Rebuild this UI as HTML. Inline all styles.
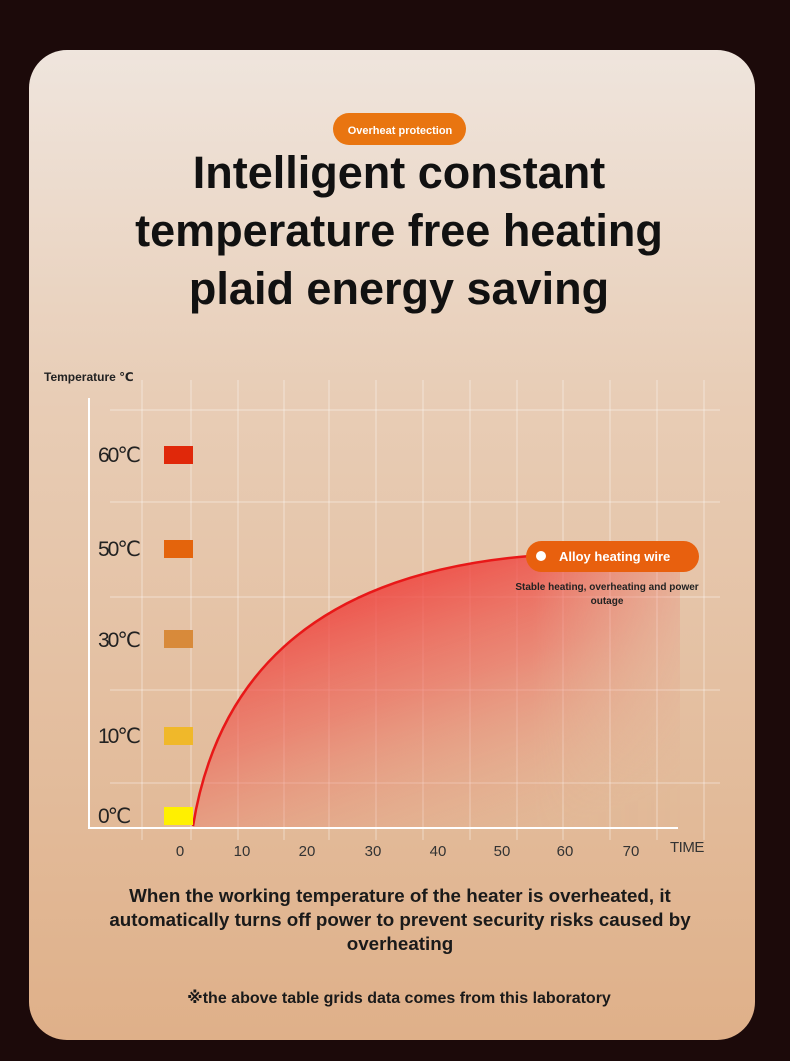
<!DOCTYPE html>
<html><head><meta charset="utf-8"><style>
html,body{margin:0;padding:0;background:#1c0a0a;width:790px;height:1061px;overflow:hidden}
</style></head><body>
<svg width="790" height="1061" viewBox="0 0 790 1061" xmlns="http://www.w3.org/2000/svg" font-family="Liberation Sans, DejaVu Sans, sans-serif">
<defs>
<linearGradient id="bg" x1="0" y1="0" x2="0" y2="1">
<stop offset="0" stop-color="#efe5dd"/><stop offset="0.35" stop-color="#e8cdb6"/><stop offset="1" stop-color="#dfb089"/>
</linearGradient>
<linearGradient id="fillg" x1="0.15" y1="0" x2="0.75" y2="1">
<stop offset="0" stop-color="#f02a2a" stop-opacity="0.95"/><stop offset="0.5" stop-color="#ee5a50" stop-opacity="0.55"/><stop offset="1" stop-color="#e8a080" stop-opacity="0.05"/>
</linearGradient>
<linearGradient id="fadeR" x1="0" y1="0" x2="1" y2="0">
<stop offset="0" stop-color="#fff" stop-opacity="1"/><stop offset="0.7" stop-color="#fff" stop-opacity="1"/><stop offset="1" stop-color="#fff" stop-opacity="0.3"/>
</linearGradient>
<mask id="m"><rect x="190" y="540" width="490" height="290" fill="url(#fadeR)"/></mask>
</defs>
<rect x="29" y="50" width="726" height="990" rx="38" fill="url(#bg)"/>
<rect x="333" y="113" width="133" height="32" rx="16" fill="#e97510"/>
<text x="400" y="134" font-size="11" font-weight="bold" fill="#fff" text-anchor="middle">Overheat protection</text>
<g font-size="45" font-weight="bold" fill="#111" text-anchor="middle">
<text x="399" y="188">Intelligent constant</text>
<text x="399" y="246">temperature free heating</text>
<text x="399" y="304">plaid energy saving</text>
</g>
<text x="44" y="381" font-size="12" font-weight="bold" fill="#222">Temperature ℃</text>
<g stroke="#fff" stroke-opacity="0.45" stroke-width="1">
<line x1="142" y1="380" x2="142" y2="840"/><line x1="191" y1="380" x2="191" y2="840"/>
<line x1="238" y1="380" x2="238" y2="840"/><line x1="284" y1="380" x2="284" y2="840"/>
<line x1="329" y1="380" x2="329" y2="840"/><line x1="376" y1="380" x2="376" y2="840"/>
<line x1="423" y1="380" x2="423" y2="840"/><line x1="470" y1="380" x2="470" y2="840"/>
<line x1="517" y1="380" x2="517" y2="840"/><line x1="563" y1="380" x2="563" y2="840"/>
<line x1="610" y1="380" x2="610" y2="840"/><line x1="657" y1="380" x2="657" y2="840"/>
<line x1="704" y1="380" x2="704" y2="840"/>
<line x1="110" y1="410" x2="720" y2="410"/><line x1="110" y1="502" x2="720" y2="502"/>
<line x1="110" y1="597" x2="720" y2="597"/><line x1="110" y1="690" x2="720" y2="690"/>
<line x1="110" y1="783" x2="720" y2="783"/>
</g>
<path d="M193 826 C 215 690, 300 575, 530 556 L 680 556 L 680 828 L 193 828 Z" fill="url(#fillg)" mask="url(#m)"/>
<path d="M193 826 C 215 690, 300 575, 530 556" fill="none" stroke="#e81818" stroke-width="2.5"/>
<line x1="89" y1="398" x2="89" y2="829" stroke="#fff" stroke-width="2"/>
<line x1="88" y1="828" x2="678" y2="828" stroke="#fff" stroke-width="2"/>
<g font-size="21" fill="#222" letter-spacing="-2">
<text x="98" y="462">60℃</text><text x="98" y="556">50℃</text><text x="98" y="647">30℃</text>
<text x="98" y="743">10℃</text><text x="98" y="823">0℃</text>
</g>
<rect x="164" y="446" width="29" height="18" fill="#e0280a"/>
<rect x="164" y="540" width="29" height="18" fill="#e4640c"/>
<rect x="164" y="630" width="29" height="18" fill="#d88a3a"/>
<rect x="164" y="727" width="29" height="18" fill="#f0b82a"/>
<rect x="164" y="807" width="29" height="18" fill="#fff000"/>
<g font-size="15" fill="#333" text-anchor="middle">
<text x="180" y="856">0</text><text x="242" y="856">10</text><text x="307" y="856">20</text>
<text x="373" y="856">30</text><text x="438" y="856">40</text><text x="502" y="856">50</text>
<text x="565" y="856">60</text><text x="631" y="856">70</text>
</g>
<text x="670" y="852" font-size="15" fill="#333" letter-spacing="-0.5">TIME</text>
<rect x="526" y="541" width="173" height="31" rx="15.5" fill="#e8600e"/>
<circle cx="541" cy="556" r="5" fill="#fff"/>
<text x="559" y="561" font-size="13" font-weight="bold" fill="#fff">Alloy heating wire</text>
<g font-size="10" font-weight="bold" fill="#222" text-anchor="middle">
<text x="607" y="590">Stable heating, overheating and power</text>
<text x="607" y="604">outage</text>
</g>
<g font-size="18.8" font-weight="bold" fill="#1a1a1a" text-anchor="middle">
<text x="400" y="902">When the working temperature of the heater is overheated, it</text>
<text x="400" y="926">automatically turns off power to prevent security risks caused by</text>
<text x="400" y="950">overheating</text>
</g>
<text x="399" y="1003" font-size="16" font-weight="bold" fill="#1a1a1a" text-anchor="middle">※the above table grids data comes from this laboratory</text>
</svg>
</body></html>
